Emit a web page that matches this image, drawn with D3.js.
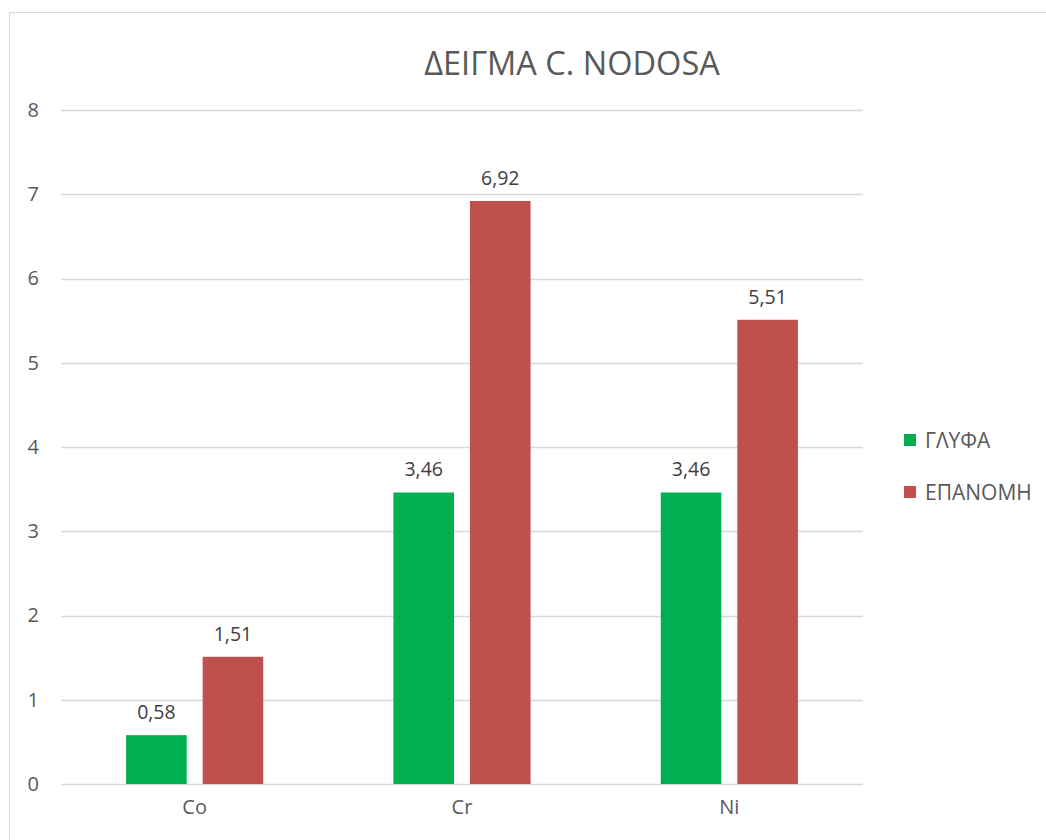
<!DOCTYPE html>
<html>
<head>
<meta charset="utf-8">
<script src="https://cdn.jsdelivr.net/npm/d3@7"></script>
<style>
  html, body { margin: 0; padding: 0; background: #fff; }
  svg { display: block; }
  text { font-family: "Open Sans", "Noto Sans", sans-serif; }
</style>
</head>
<body>
<svg id="chart" width="1046" height="840"></svg>
<script>
// Metal concentrations per sample location
const title = "ΔΕΙΓΜΑ C. NODOSA";
const categories = ["Co", "Cr", "Ni"];
const seriesNames = ["ΓΛΥΦΑ", "ΕΠΑΝΟΜΗ"];
const glyfaValues = [0.58, 3.46, 3.46];
const epanomiValues = [1.51, 6.92, 5.51];
const seriesColors = ["#00b050", "#c0504d"];
const yTicks = [0, 1, 2, 3, 4, 5, 6, 7, 8];

const seriesValues = [glyfaValues, epanomiValues];

const svg = d3.select("#chart");
const W = 1046, H = 840;
const plot = { left: 61, right: 863, top: 110, bottom: 784 };

// outer chart frame
svg.append("rect")
  .attr("x", 9.5).attr("y", 12.5)
  .attr("width", W + 10).attr("height", H + 10)
  .attr("fill", "#fff").attr("stroke", "#d9d9d9").attr("stroke-width", 1);

const y = d3.scaleLinear().domain([0, 8]).range([plot.bottom, plot.top]);
const x0 = d3.scaleBand().domain(categories).range([plot.left, plot.right]).paddingInner(0).paddingOuter(0);
const groupW = x0.bandwidth() * 0.513;
const x1 = d3.scaleBand().domain(seriesNames)
  .range([(x0.bandwidth() - groupW) / 2, (x0.bandwidth() + groupW) / 2])
  .paddingInner(0.209).paddingOuter(0);

// gridlines
svg.append("g")
  .selectAll("line").data(yTicks).join("line")
  .attr("x1", plot.left).attr("x2", plot.right)
  .attr("y1", d => Math.round(y(d)) + 0.5).attr("y2", d => Math.round(y(d)) + 0.5)
  .attr("stroke", "#d9d9d9").attr("stroke-width", 1.3);

// y axis labels
const yAxis = d3.axisLeft(y).tickValues(yTicks).tickSize(0).tickPadding(0).tickFormat(d3.format("d"));
const gy = svg.append("g").attr("transform", `translate(39,0)`).call(yAxis);
gy.select(".domain").remove();
gy.selectAll("text").attr("font-size", 20).attr("fill", "#595959").attr("font-family", null);

// x axis labels
const xAxis = d3.axisBottom(x0).tickSize(0).tickPadding(0);
const gx = svg.append("g").attr("transform", `translate(0,${plot.bottom + 16})`).call(xAxis);
gx.select(".domain").remove();
gx.selectAll("text").attr("font-size", 20).attr("fill", "#595959").attr("font-family", null);

// bars
const groups = svg.append("g").selectAll("g").data(categories).join("g")
  .attr("transform", d => `translate(${x0(d)},0)`);

groups.selectAll("rect")
  .data((c, i) => seriesNames.map((s, j) => ({ s, j, v: seriesValues[j][i] })))
  .join("rect")
  .attr("x", d => x1(d.s))
  .attr("width", x1.bandwidth())
  .attr("y", d => y(d.v))
  .attr("height", d => y(0) - y(d.v))
  .attr("fill", d => seriesColors[d.j]);

// value labels
const fmt = v => d3.format(".2f")(v).replace(".", ",");
groups.selectAll("text.val")
  .data((c, i) => seriesNames.map((s, j) => ({ s, j, v: seriesValues[j][i] })))
  .join("text").attr("class", "val")
  .attr("x", d => x1(d.s) + x1.bandwidth() / 2)
  .attr("y", d => y(d.v) - 16)
  .attr("text-anchor", "middle")
  .attr("font-size", 19.5).attr("fill", "#404040")
  .text(d => fmt(d.v));

// title
svg.append("text")
  .attr("x", 572).attr("y", 75)
  .attr("text-anchor", "middle")
  .attr("font-size", 32.5).attr("fill", "#595959")
  .text(title);

// legend
const legend = svg.append("g").selectAll("g").data(seriesNames).join("g")
  .attr("transform", (d, i) => `translate(904,${434 + i * 52})`);
legend.append("rect").attr("width", 12).attr("height", 12)
  .attr("fill", (d, i) => seriesColors[i]);
legend.append("text").attr("x", 21).attr("y", 13.5)
  .attr("font-size", 21).attr("fill", "#595959")
  .text(d => d);
</script>
</body>
</html>
